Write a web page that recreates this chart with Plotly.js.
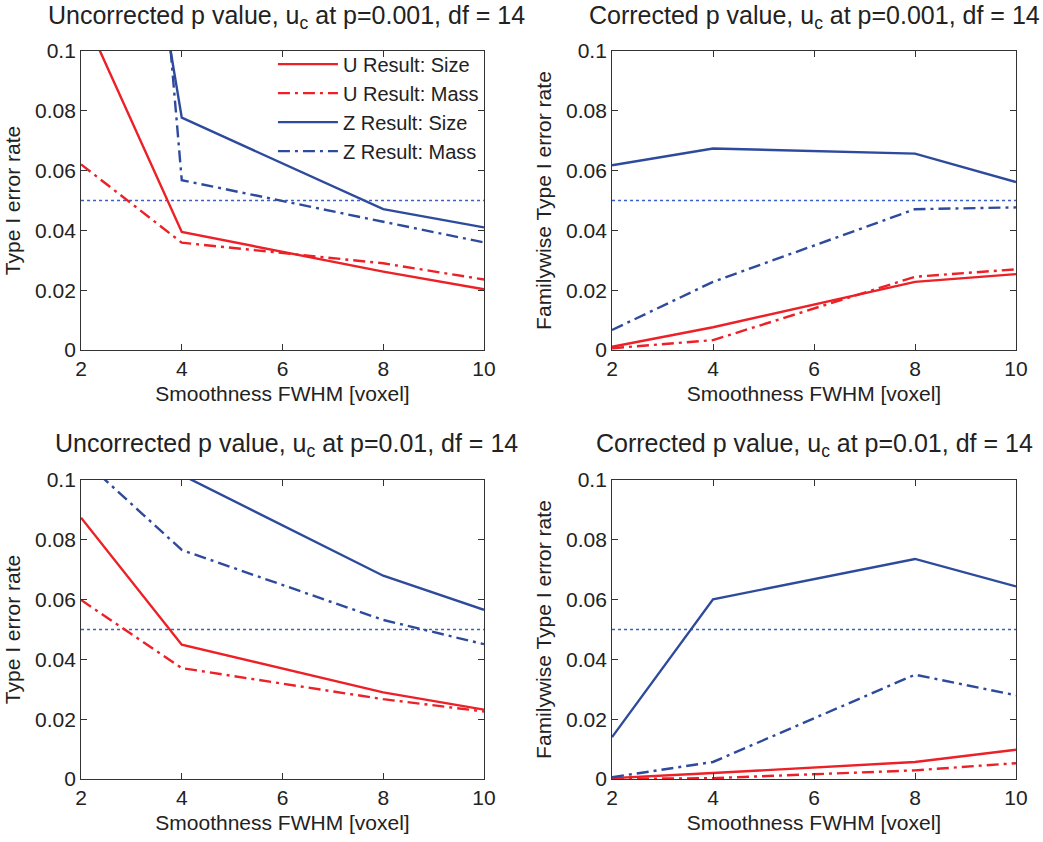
<!DOCTYPE html>
<html>
<head>
<meta charset="utf-8">
<script src="https://cdn.plot.ly/plotly-3.0.1.min.js"></script>
<style>
  body { margin: 0; background: #fff; }
  #plot { width: 1043px; height: 842px; }
</style>
</head>
<body>
<div id="plot"></div>
<script>
// smoothness FWHM values (voxels)
const fwhm = [2, 4, 8, 10];

// uncorrected, u_c at p=0.001
const unc001_uSize = [0.114, 0.0395, 0.0262, 0.0203];
const unc001_uMass = [0.0621, 0.0359, 0.029, 0.0236];
const unc001_zSize = [0.28, 0.0777, 0.0471, 0.041];
const unc001_zMass = [0.45, 0.0568, 0.0429, 0.036];

// corrected, u_c at p=0.001
const cor001_uSize = [0.0011, 0.0076, 0.0228, 0.0254];
const cor001_uMass = [0.0006, 0.0033, 0.0245, 0.027];
const cor001_zSize = [0.0618, 0.0674, 0.0657, 0.0562];
const cor001_zMass = [0.0067, 0.0228, 0.0471, 0.0477];

// uncorrected, u_c at p=0.01
const unc01_uSize = [0.0874, 0.0449, 0.029, 0.0232];
const unc01_uMass = [0.0599, 0.0371, 0.0267, 0.0226];
const unc01_zSize = [0.14, 0.1017, 0.068, 0.0566];
const unc01_zMass = [0.1074, 0.0766, 0.0532, 0.0451];

// corrected, u_c at p=0.01
const cor01_uSize = [0.0003, 0.002, 0.0057, 0.0098];
const cor01_uMass = [0.0, 0.0003, 0.0029, 0.0053];
const cor01_zSize = [0.014, 0.0601, 0.0736, 0.0644];
const cor01_zMass = [0.0006, 0.0057, 0.0349, 0.028];

const alphaX = [2, 10];
const alphaY = [0.05, 0.05];

const seriesNames = ['U Result: Size', 'U Result: Mass', 'Z Result: Size', 'Z Result: Mass'];

const titles = [
  'Uncorrected p value, u<sub>c</sub> at p=0.001, df = 14',
  'Corrected p value, u<sub>c</sub> at p=0.001, df = 14',
  'Uncorrected p value, u<sub>c</sub> at p=0.01, df = 14',
  'Corrected p value, u<sub>c</sub> at p=0.01, df = 14'
];

const red = '#ec2026';
const blue = '#2d4a9c';
const dashDot = '12px,5px,3px,5px';

const panels = [
  [unc001_uSize, unc001_uMass, unc001_zSize, unc001_zMass],
  [cor001_uSize, cor001_uMass, cor001_zSize, cor001_zMass],
  [unc01_uSize, unc01_uMass, unc01_zSize, unc01_zMass],
  [cor01_uSize, cor01_uMass, cor01_zSize, cor01_zMass]
];

const styles = [
  { color: red, dash: 'solid' },
  { color: red, dash: dashDot },
  { color: blue, dash: 'solid' },
  { color: blue, dash: dashDot }
];

const traces = [];
panels.forEach((panel, p) => {
  const xa = p === 0 ? 'x' : 'x' + (p + 1);
  const ya = p === 0 ? 'y' : 'y' + (p + 1);
  // dotted 0.05 reference line
  traces.push({
    x: alphaX, y: alphaY, xaxis: xa, yaxis: ya,
    type: 'scatter', mode: 'lines', showlegend: false, hoverinfo: 'skip',
    line: { color: '#3b5fc4', width: 1.6, dash: 'dot' }
  });
  panel.forEach((vals, i) => {
    traces.push({
      x: fwhm, y: vals, xaxis: xa, yaxis: ya,
      type: 'scatter', mode: 'lines',
      name: seriesNames[i],
      showlegend: p === 0,
      line: { color: styles[i].color, width: 2.4, dash: styles[i].dash }
    });
  });
});

const font = { family: 'Liberation Sans, Arial, sans-serif', color: '#222', size: 21 };

function xAxis(domain, anchor) {
  return {
    domain: domain, anchor: anchor, range: [2, 10],
    tickvals: [2, 4, 6, 8, 10], ticks: 'inside', ticklen: 6, tickcolor: '#333',
    showline: true, mirror: 'ticks', linecolor: '#333', linewidth: 1,
    showgrid: false, zeroline: false,
    tickfont: { size: 21 },
    title: { text: 'Smoothness FWHM [voxel]', font: { size: 21 }, standoff: 7 }
  };
}
function yAxis(domain, anchor, label) {
  return {
    domain: domain, anchor: anchor, range: [0, 0.1],
    tickvals: [0, 0.02, 0.04, 0.06, 0.08, 0.1],
    ticktext: ['0', '0.02', '0.04', '0.06', '0.08', '0.1'],
    ticks: 'inside', ticklen: 6, tickcolor: '#333',
    showline: true, mirror: 'ticks', linecolor: '#333', linewidth: 1,
    showgrid: false, zeroline: false,
    tickfont: { size: 21 },
    title: { text: label, font: { size: 21 }, standoff: 8 }
  };
}

const xL = [0.0777, 0.464], xR = [0.5868, 0.9741];
const yT = [0.5843, 0.9394], yB = [0.0748, 0.4299];

const annotations = titles.map((t, i) => ({
  text: t, xref: 'paper', yref: 'paper',
  x: i % 2 === 0 ? (xL[0] + xL[1]) / 2 + 0.004 : (xR[0] + xR[1]) / 2,
  y: i < 2 ? 0.98 : 0.472,
  xanchor: 'center', yanchor: 'middle', showarrow: false,
  font: { size: 25 }
}));

const layout = {
  width: 1043, height: 842,
  margin: { l: 0, r: 0, t: 0, b: 0 },
  paper_bgcolor: '#fff', plot_bgcolor: '#fff',
  font: font,
  showlegend: true,
  legend: {
    x: 0.464, y: 0.947, xanchor: 'right', yanchor: 'top',
    bgcolor: 'rgba(0,0,0,0)', font: { size: 20 },
    tracegroupgap: 0, itemwidth: 60
  },
  xaxis: xAxis(xL, 'y'), yaxis: yAxis(yT, 'x', 'Type I error rate'),
  xaxis2: xAxis(xR, 'y2'), yaxis2: yAxis(yT, 'x2', 'Familywise Type I error rate'),
  xaxis3: xAxis(xL, 'y3'), yaxis3: yAxis(yB, 'x3', 'Type I error rate'),
  xaxis4: xAxis(xR, 'y4'), yaxis4: yAxis(yB, 'x4', 'Familywise Type I error rate'),
  annotations: annotations
};

Plotly.newPlot('plot', traces, layout, { displayModeBar: false, staticPlot: true });
</script>
</body>
</html>
